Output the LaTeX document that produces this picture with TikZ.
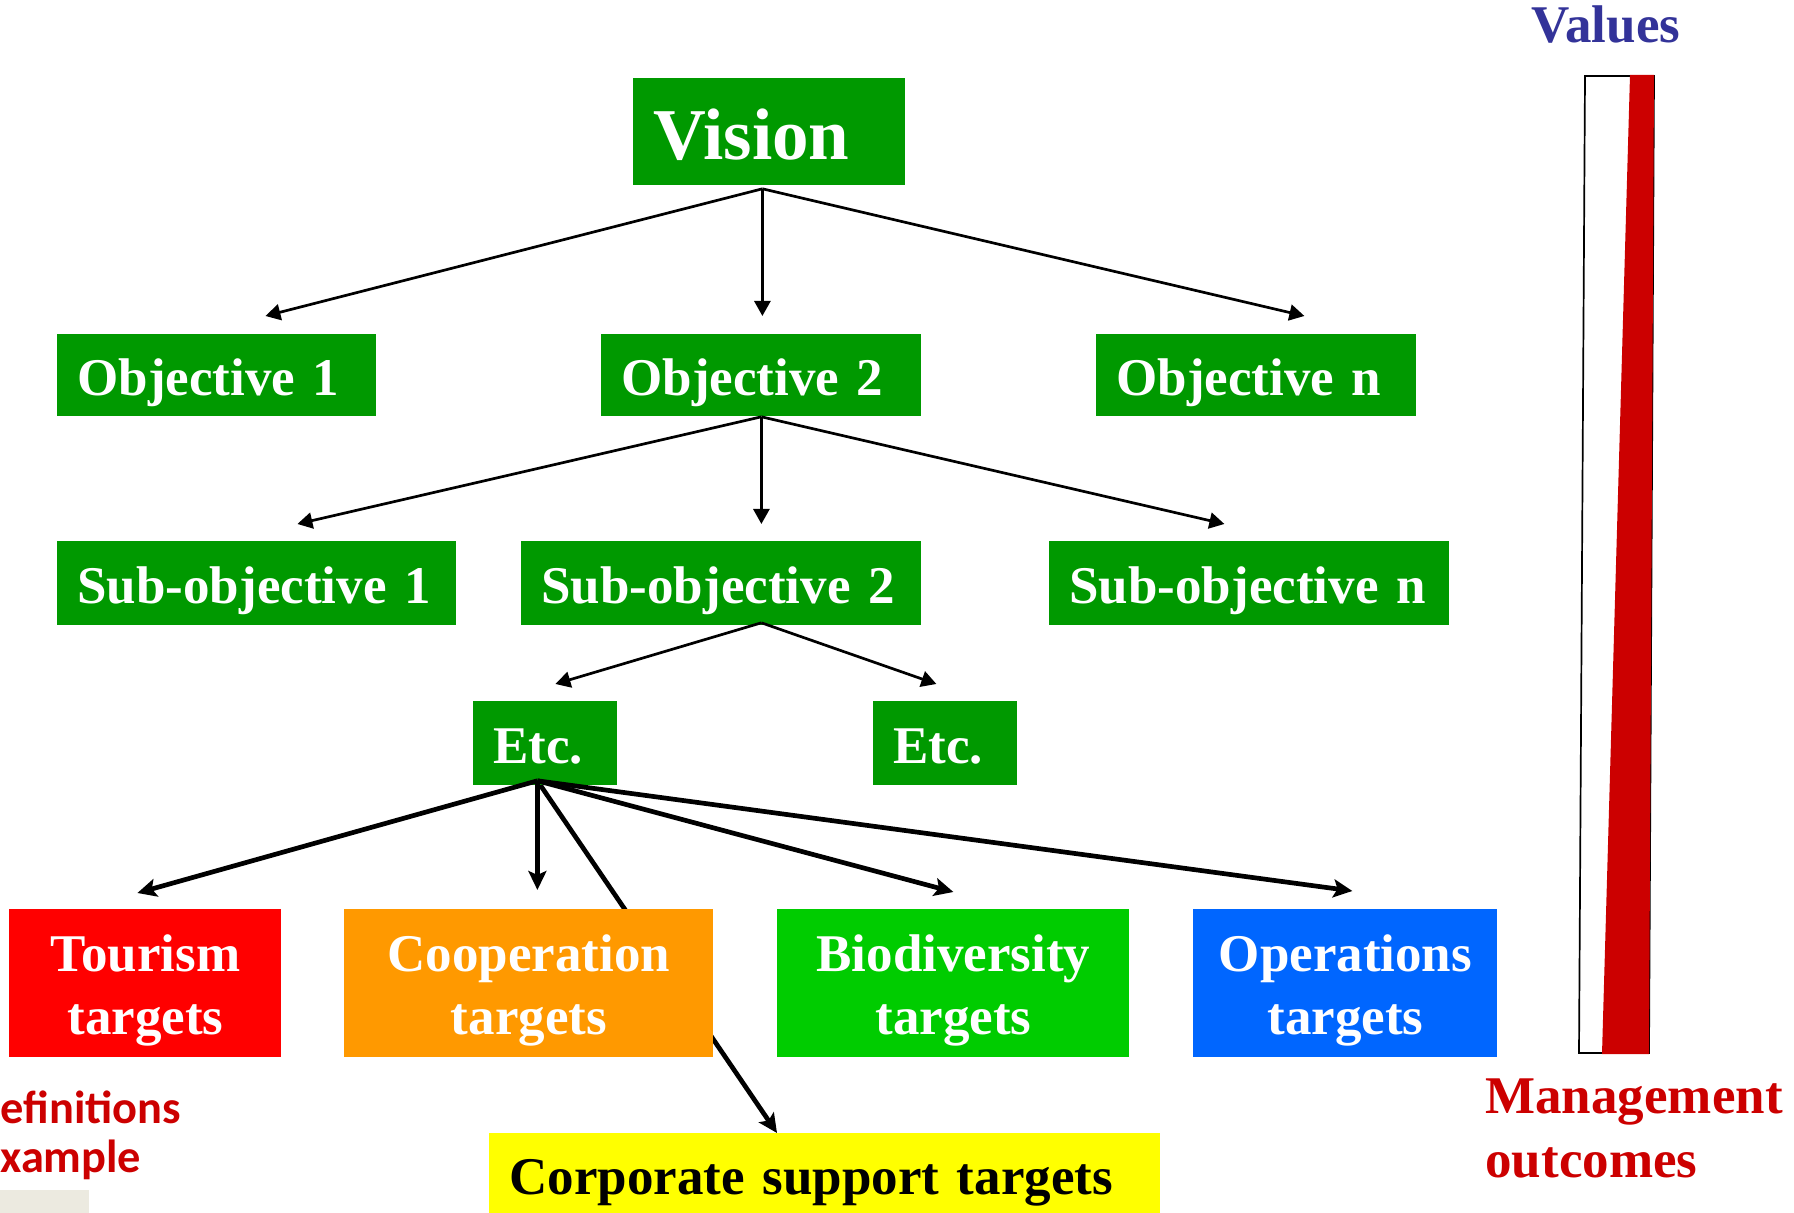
\documentclass[tikz,border=0pt]{standalone}
\usepackage{fontspec}
\setmainfont{Liberation Serif}[WordSpace=0.75]
\newfontfamily\calib{Carlito}
\usetikzlibrary{arrows.meta,backgrounds}
\definecolor{goalgreen}{HTML}{009900}
\definecolor{tourred}{HTML}{FF0000}
\definecolor{coopor}{HTML}{FF9900}
\definecolor{biogreen}{HTML}{00CC00}
\definecolor{opsblue}{HTML}{0066FF}
\definecolor{corpyellow}{HTML}{FFFF00}
\definecolor{valblue}{HTML}{333399}
\definecolor{barred}{HTML}{CC0000}
\definecolor{beige}{HTML}{ECEAE0}
\newcommand{\tstrut}{\rule{0pt}{25.3pt}}
\tikzset{x=0.5pt,y=-0.5pt,
    goal/.style={fill=goalgreen,text=white,anchor=north west,align=left,
        inner xsep=10pt,inner ysep=0pt,text height=20pt,text depth=0pt,
        font=\bfseries\fontsize{26.5}{31.5}\selectfont},
    target/.style={anchor=north west,align=center,inner sep=0pt,text=white,
        minimum height=74pt,font=\bfseries\fontsize{26.5}{31.5}\selectfont},
    side/.style={inner sep=0pt,font=\bfseries\fontsize{26.5}{31.5}\selectfont},
    note/.style={inner sep=0pt,anchor=base west,text=barred,
        font=\calib\bfseries\fontsize{23.2}{26}\selectfont},
    arr/.style={line width=1.35pt,-{Triangle[length=7.5pt,width=8pt]}},
    bigarr/.style={line width=2.35pt,-{Stealth[length=9.5pt,width=9pt,inset=2pt]}},
    }
\begin{document}
\begin{tikzpicture}
\useasboundingbox (0,0) rectangle (1794,1213);
% values bar
\draw[line width=0.85pt] (1585,76) -- (1654,76) -- (1649,1053) -- (1579,1053) -- cycle;
\fill[barred] (1630,75) -- (1654,75) -- (1649,1054) -- (1602,1054) -- cycle;
\node[side,text=valblue,anchor=base] (values) at (1606,43) {Values};
\node[side,text=barred,anchor=base west] (mgmt) at (1485,1113) {Management};
\node[side,text=barred,anchor=base west] (outc) at (1485,1177) {outcomes};
% left margin
\fill[beige] (0,1190) rectangle (89,1213);
\node[note] (defn) at (0,1123) {efinitions};
\node[note] (expl) at (0,1172) {xample};
% tree
\node[goal,font=\bfseries\fontsize{36.5}{40}\selectfont,text height=27.7pt,text width=116pt,minimum height=53.5pt] (vision) at (633,78) {Vision};
\node[goal,text width=139.5pt,minimum height=41pt] (obj1) at (57,334) {Objective 1};
\node[goal,text width=140pt,minimum height=41pt] (obj2) at (601,334) {Objective 2};
\node[goal,text width=140pt,minimum height=41pt] (objn) at (1096,334) {Objective n};
\node[goal,text width=179.5pt,minimum height=42pt] (sub1) at (57,541) {Sub-objective 1};
\node[goal,text width=180pt,minimum height=42pt] (sub2) at (521,541) {Sub-objective 2};
\node[goal,text width=180pt,minimum height=42pt] (subn) at (1049,541) {Sub-objective n};
\node[goal,text width=52pt,minimum height=42pt] (etc1) at (473,701) {Etc.};
\node[goal,text width=52pt,minimum height=42pt] (etc2) at (873,701) {Etc.};
\node[target,fill=tourred,minimum width=136pt] (tour) at (9,909) {\tstrut Tourism\\targets};
\node[target,fill=coopor,minimum width=184.5pt] (coop) at (344,909) {\tstrut Cooperation\\targets};
\node[target,fill=biogreen,minimum width=176pt] (bio) at (777,909) {\tstrut Biodiversity\\targets};
\node[target,fill=opsblue,minimum width=152pt] (ops) at (1193,909) {\tstrut Operations\\targets};
\node[goal,fill=corpyellow,text=black,text width=315.5pt,minimum height=41pt] (corp) at (489,1133) {Corporate support targets};
% connectors
\coordinate (vfork) at ([shift={(-7,3)}]vision.south);
\draw[arr] (vfork) -- ([shift={(48.5,-18)}]obj1.north);
\draw[arr] (vfork) -- ([shift={(1,-18)}]obj2.north);
\draw[arr] (vfork) -- ([shift={(48,-18)}]objn.north);
\coordinate (ofork) at (obj2.south);
\draw[arr] (ofork) -- ([shift={(40.5,-17)}]sub1.north);
\draw[arr] (ofork) -- ([shift={(40,-17)}]sub2.north);
\draw[arr] (ofork) -- ([shift={(-25,-17)}]subn.north);
\coordinate (sfork) at ([shift={(40,-3)}]sub2.south);
\draw[arr] (sfork) -- ([shift={(10,-17)}]etc1.north);
\draw[arr] (sfork) -- ([shift={(-9,-17)}]etc2.north);
\coordinate (efork) at ([shift={(-8,-5)}]etc1.south);
\draw[bigarr] (efork) -- ([shift={(-8,-16)}]tour.north);
\draw[bigarr] (efork) -- ([shift={(8.5,-19)}]coop.north);
\draw[bigarr] (efork) -- ([shift={(0,-17)}]bio.north);
\draw[bigarr] (efork) -- ([shift={(7,-18)}]ops.north);
\begin{scope}[on background layer]
\draw[bigarr] (efork) -- ([shift={(288,0)}]corp.north west);%behind coop
\end{scope}
\end{tikzpicture}
\end{document}
